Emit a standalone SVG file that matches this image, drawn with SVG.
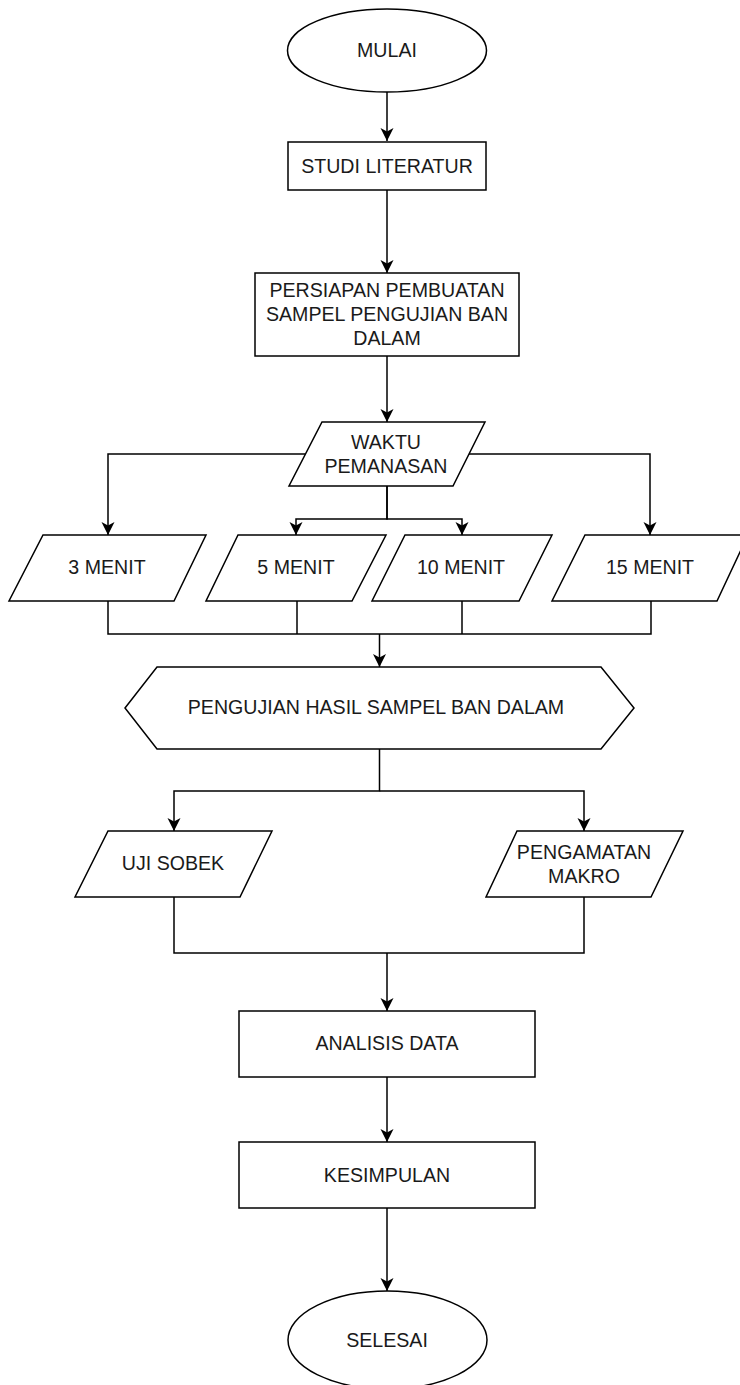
<svg xmlns="http://www.w3.org/2000/svg" width="740" height="1385" viewBox="0 0 740 1385">
<style>
.s{fill:#fff;stroke:#000;stroke-width:1.5}
.t{font-family:"Liberation Sans",Arial,sans-serif;font-size:19.6px;fill:#1a1a1a;text-anchor:middle}
.c{fill:none;stroke:#000;stroke-width:1.5}
</style>
<defs>
<marker id="arr" markerWidth="14" markerHeight="14" viewBox="-13 -7 14 14" refX="0" refY="0" orient="auto" markerUnits="userSpaceOnUse">
<path d="M0,0 L-13,-6.5 L-9.5,0 L-13,6.5 Z" fill="#000"/>
</marker>
</defs>
<rect width="740" height="1385" fill="#fff"/>
<g id="connectors">
<path class="c" d="M387,92 V141" marker-end="url(#arr)"/>
<path class="c" d="M387,190 V273" marker-end="url(#arr)"/>
<path class="c" d="M387,356 V422" marker-end="url(#arr)"/>
<path class="c" d="M305.5,454 H108 V535" marker-end="url(#arr)"/>
<path class="c" d="M469,454 H650 V535" marker-end="url(#arr)"/>
<path class="c" d="M387,486 V519 H296 V535" marker-end="url(#arr)"/>
<path class="c" d="M387,486 V519 H462 V535" marker-end="url(#arr)"/>
<path class="c" d="M108,601 V634 H651 V601"/>
<path class="c" d="M297,601 V634"/>
<path class="c" d="M462,601 V634"/>
<path class="c" d="M379.5,634 V667" marker-end="url(#arr)"/>
<path class="c" d="M379.5,749 V791 H174 V831" marker-end="url(#arr)"/>
<path class="c" d="M379.5,791 H584 V831" marker-end="url(#arr)"/>
<path class="c" d="M174,897 V953 H584 V897"/>
<path class="c" d="M387,953 V1011" marker-end="url(#arr)"/>
<path class="c" d="M387,1077 V1142" marker-end="url(#arr)"/>
<path class="c" d="M387,1208 V1291" marker-end="url(#arr)"/>
</g>
<g id="mulai">
<ellipse class="s" cx="387" cy="50.5" rx="99.5" ry="41.5"/>
<text class="t" x="387" y="57">MULAI</text>
</g>
<g id="studi-literatur">
<rect class="s" x="288" y="142" width="198" height="48"/>
<text class="t" x="387" y="173">STUDI LITERATUR</text>
</g>
<g id="persiapan">
<rect class="s" x="255" y="273" width="264" height="83"/>
<text class="t" x="387" y="297">PERSIAPAN PEMBUATAN</text>
<text class="t" x="387" y="321">SAMPEL PENGUJIAN BAN</text>
<text class="t" x="387" y="345">DALAM</text>
</g>
<g id="waktu-pemanasan">
<polygon class="s" points="322,422 485,422 453,486 289,486"/>
<text class="t" x="386" y="449">WAKTU</text>
<text class="t" x="386" y="473">PEMANASAN</text>
</g>
<g id="menit-3">
<polygon class="s" points="43,535 206,535 174,601 9,601"/>
<text class="t" x="107" y="574">3 MENIT</text>
</g>
<g id="menit-5">
<polygon class="s" points="238,535 386,535 352,601 206,601"/>
<text class="t" x="296" y="574">5 MENIT</text>
</g>
<g id="menit-10">
<polygon class="s" points="405,535 552,535 519,601 372,601"/>
<text class="t" x="461" y="574">10 MENIT</text>
</g>
<g id="menit-15">
<polygon class="s" points="585,535 748,535 717,601 552,601"/>
<text class="t" x="650" y="574">15 MENIT</text>
</g>
<g id="pengujian">
<polygon class="s" points="125,708 157,667 601,667 634,708 601,749 157,749"/>
<text class="t" x="376" y="714">PENGUJIAN HASIL SAMPEL BAN DALAM</text>
</g>
<g id="uji-sobek">
<polygon class="s" points="108,831 272,831 240,897 75,897"/>
<text class="t" x="173" y="870">UJI SOBEK</text>
</g>
<g id="pengamatan-makro">
<polygon class="s" points="517,831 683,831 651,897 486,897"/>
<text class="t" x="584" y="859">PENGAMATAN</text>
<text class="t" x="584" y="883">MAKRO</text>
</g>
<g id="analisis-data">
<rect class="s" x="239" y="1011" width="296" height="66"/>
<text class="t" x="387" y="1050">ANALISIS DATA</text>
</g>
<g id="kesimpulan">
<rect class="s" x="239" y="1142" width="296" height="66"/>
<text class="t" x="387" y="1182">KESIMPULAN</text>
</g>
<g id="selesai">
<ellipse class="s" cx="387.5" cy="1340" rx="99.5" ry="49"/>
<text class="t" x="387" y="1347">SELESAI</text>
</g>
</svg>
